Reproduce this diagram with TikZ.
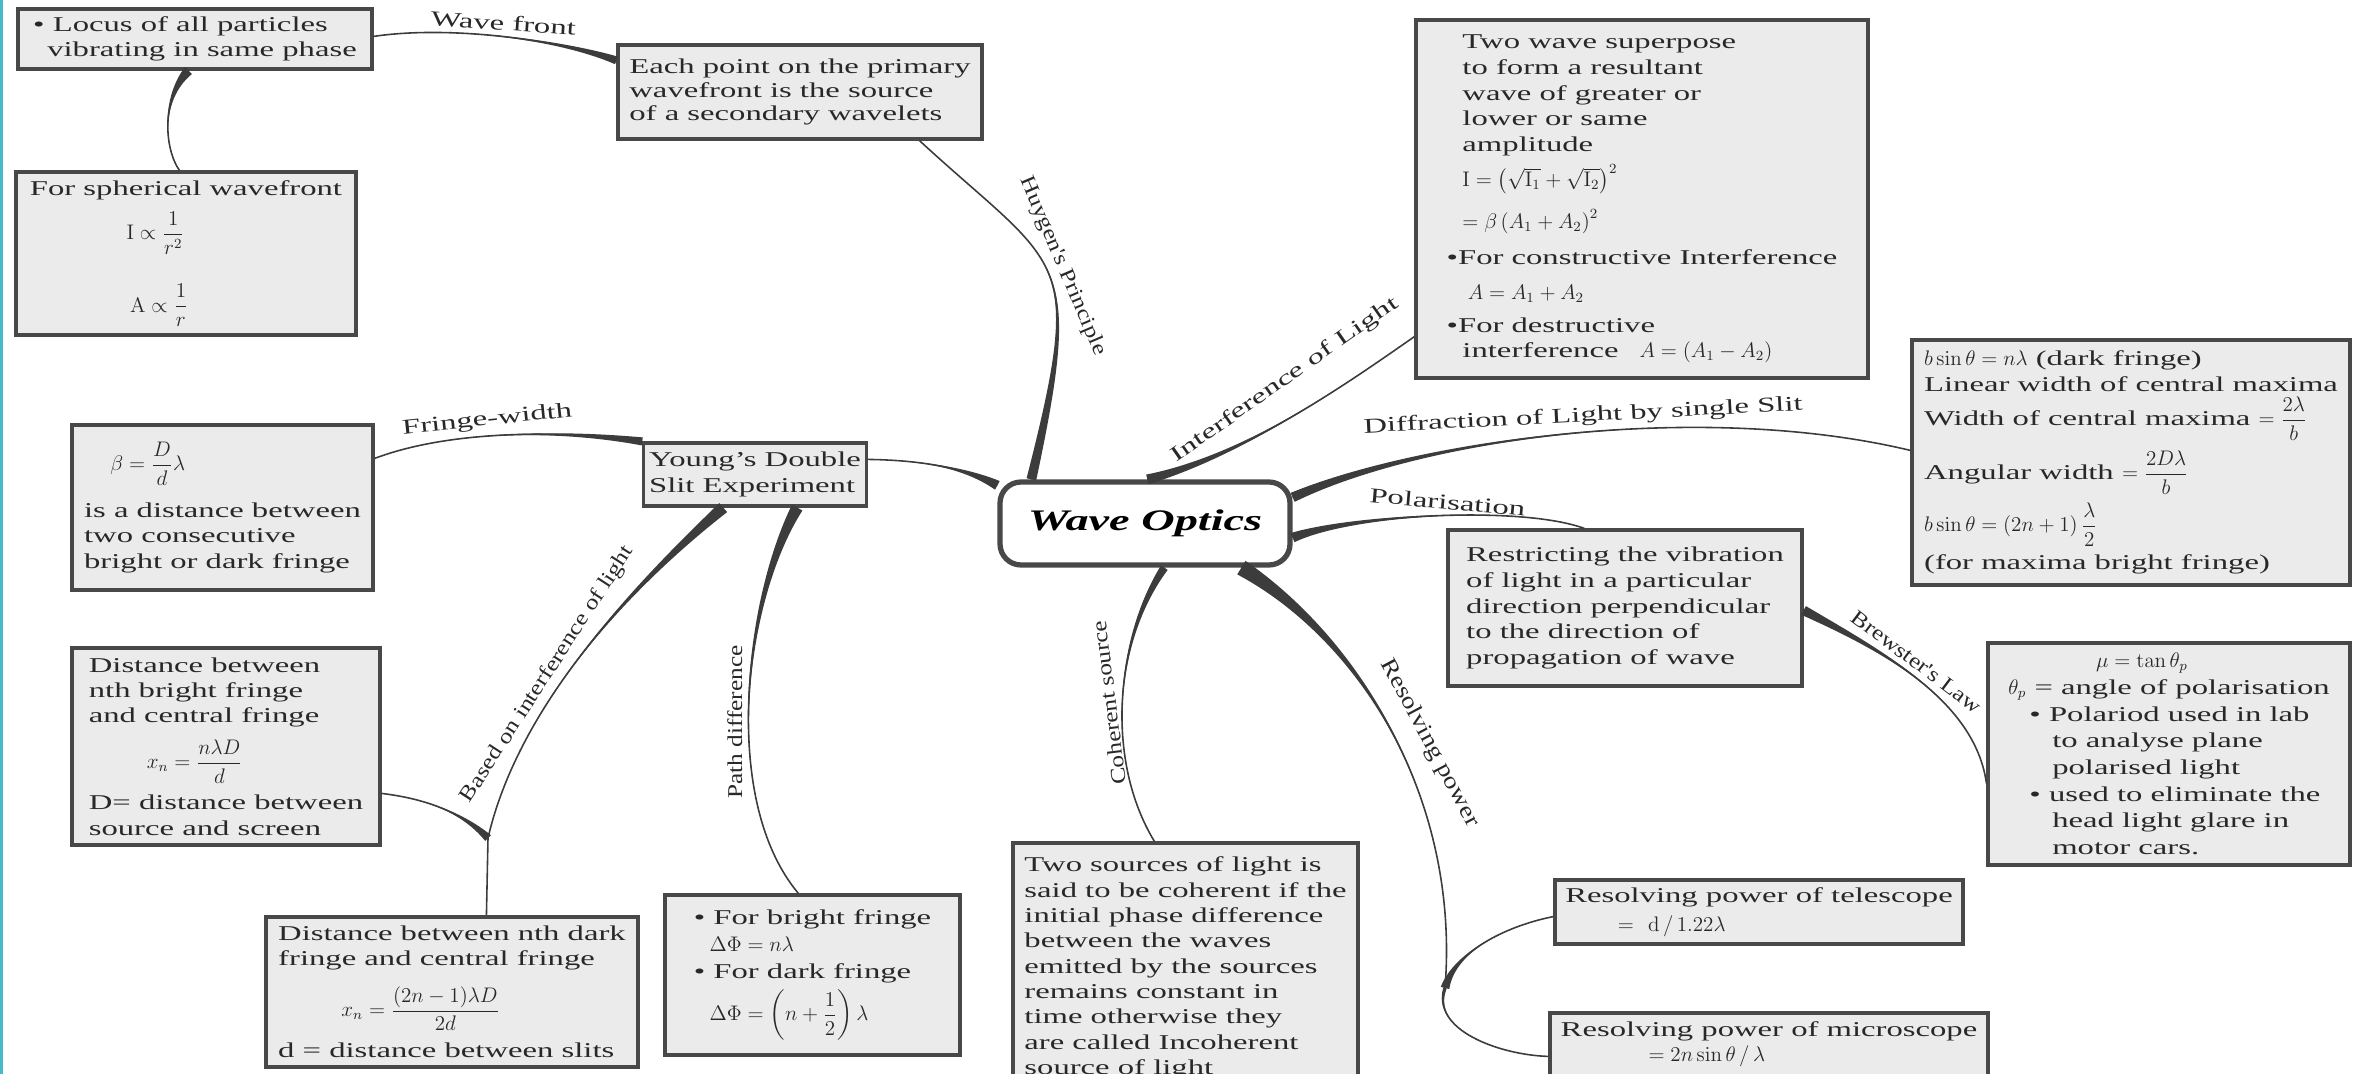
\documentclass[tikz,border=0pt]{standalone}
\usepackage{amsmath}
\usepackage[no-math]{fontspec}
\setmainfont{Liberation Serif}[FakeStretch=1.55]
\newfontfamily\steepfont{Liberation Serif}[FakeStretch=1.2]
\usetikzlibrary{calc}

\definecolor{boxfill}{RGB}{235,235,235}
\definecolor{boxline}{RGB}{72,72,72}
\definecolor{limbcol}{RGB}{60,60,60}
\definecolor{inkcol}{RGB}{40,40,40}
\definecolor{rulecol}{RGB}{70,185,205}

\tikzset{
	leaf/.style={draw=boxline, fill=boxfill, line width=1.8pt, inner sep=3pt, align=left, text=inkcol, font=\fontsize{12}{14.4}\selectfont},
	boxsize/.style 2 args={minimum width=#1*0.02cm, minimum height=#2*0.02cm},
	hub/.style={draw=boxline, fill=white, line width=3pt, rounded corners=12pt, text=black, font=\fontsize{17}{20}\selectfont\bfseries\itshape},
	limbfill/.style={fill=limbcol},
	limbline/.style={draw=limbcol, line width=0.9pt},
	lbl/.style={text=inkcol, inner sep=3pt, font=\fontsize{12}{14}\selectfont},
	lblv/.style={lbl, font=\steepfont\fontsize{12}{14}\selectfont}
}

% tapered branch: thick at #1, thin at #4
\newcommand\branch[6]{%
	\fill[limbfill] ($(#1)!#5!90:(#2)$) .. controls (#2) and (#3) .. (#4)
		.. controls (#3) and (#2) .. ($(#1)!#5!-90:(#2)$) -- cycle;
	\draw[limbline] (#1) .. controls (#2) and (#3) .. (#4) #6;}

\begin{document}
\begin{tikzpicture}[x=0.02cm, y=-0.02cm]
	\useasboundingbox (0,0) rectangle (2368,1074);
	\fill[rulecol] (0,0) rectangle (3,1074);

	\node[hub, boxsize={290}{83}] (wo) at (1145,523.5) {Wave Optics};

	\node[leaf, boxsize={354}{60}] (locus) at (195,39) {\textbullet\ Locus of all particles\\\hspace*{8pt}vibrating in same phase};
	\node[leaf, boxsize={340}{163}] (sph) at (186,253.5) {For spherical wavefront\\[6pt]\hspace*{55pt}$\mathrm{I}\propto\dfrac{1}{r^2}$\\[16pt]\hspace*{57pt}$\mathrm{A}\propto\dfrac{1}{r}$};
	\node[leaf, boxsize={364}{94}, font=\fontsize{12}{13.6}\selectfont] (huy) at (800,92) {Each point on the primary\\wavefront is the source\\of a secondary wavelets};
	\node[leaf, boxsize={220}{63}] (yds) at (755,474.5) {Young's Double\\Slit Experiment};
	\node[leaf, boxsize={301}{165}] (fw) at (222.5,507.5) {\hspace*{15pt}$\beta=\dfrac{D}{d}\lambda$\\[9pt]is a distance between\\two consecutive\\bright or dark fringe};
	\node[leaf, boxsize={308}{197}] (bright) at (226,746.5) {Distance between\\nth bright fringe\\and central fringe\\[6pt]\hspace*{33pt}$x_n=\dfrac{n\lambda D}{d}$\\[6pt]D= distance between\\source and screen};
	\node[leaf, boxsize={372}{150}] (dark) at (452,992) {Distance between nth dark\\fringe and central fringe\\[8pt]\hspace*{36pt}$x_n=\dfrac{(2n-1)\lambda D}{2d}$\\[6pt]d = distance between slits};
	\node[leaf, boxsize={295}{160}, font=\fontsize{12}{15.5}\selectfont] (path) at (812.5,975) {\textbullet\ For bright fringe\\\hspace*{9pt}$\Delta\Phi=n\lambda$\\\textbullet\ For dark fringe\\[3pt]\hspace*{9pt}$\Delta\Phi=\left(n+\dfrac{1}{2}\right)\lambda$};
	\node[leaf, boxsize={345}{250}] (coh) at (1185.5,968) {Two sources of light is\\said to be coherent if the\\initial phase difference\\between the waves\\emitted by the sources\\remains constant in\\time otherwise they\\are called Incoherent\\source of light};
	\node[leaf, boxsize={452}{358}, font=\fontsize{12}{14.6}\selectfont] (intf) at (1642,199) {\hspace*{9pt}Two wave superpose\\\hspace*{9pt}to form a resultant\\\hspace*{9pt}wave of greater or\\\hspace*{9pt}lower or same\\\hspace*{9pt}amplitude\\[4pt]\hspace*{9pt}$\mathrm{I}=\left(\sqrt{\mathrm{I}_1}+\sqrt{\mathrm{I}_2}\right)^2$\\[8pt]\hspace*{9pt}$=\beta\left(A_1+A_2\right)^2$\\[6pt]\textbullet For constructive Interference\\[5pt]\hspace*{12pt}$A=A_1+A_2$\\[4pt]\textbullet For destructive\\\hspace*{9pt}interference\quad $A=\left(A_1-A_2\right)$};
	\node[leaf, boxsize={438}{245}, font=\fontsize{12}{14.7}\selectfont] (diff) at (2131,462.5) {$b\sin\theta=n\lambda$ (dark fringe)\\Linear width of central maxima\\[2pt]Width of central maxima $=\dfrac{2\lambda}{b}$\\[5pt]Angular width $=\dfrac{2D\lambda}{b}$\\[4pt]$b\sin\theta=(2n+1)\,\dfrac{\lambda}{2}$\\[4pt](for maxima bright fringe)};
	\node[leaf, boxsize={354}{156}, font=\fontsize{12}{14.6}\selectfont] (pol) at (1625,608) {Restricting the vibration\\of light in a particular\\direction perpendicular\\to the direction of\\propagation of wave};
	\node[leaf, boxsize={362}{222}, font=\fontsize{12}{15.2}\selectfont] (brew) at (2169,754) {\hspace*{50pt}$\mu=\tan\theta_p$\\$\theta_p$ = angle of polarisation\\\hspace*{12pt}\textbullet\ Polariod used in lab\\\hspace*{25pt}to analyse plane\\\hspace*{25pt}polarised light\\\hspace*{12pt}\textbullet\ used to eliminate the\\\hspace*{25pt}head light glare in\\\hspace*{25pt}motor cars.};
	\node[leaf, boxsize={408}{64}] (tel) at (1759,912) {Resolving power of telescope\\[2pt]\hspace*{30pt}$=\ \mathrm{d}\,/\,1.22\lambda$};
	\node[leaf, boxsize={438}{63}] (mic) at (1769,1044.5) {Resolving power of microscope\\\hspace*{50pt}$=2n\sin\theta\,/\,\lambda$};

	% branch ends
	\coordinate (h0) at ($(wo.north west)+(34,0)$);
	\coordinate (h1) at ($(huy.south west)+(303,0)$);
	\coordinate (i0) at ($(wo.north west)+(150,0)$);
	\coordinate (i1) at ($(intf.south west)+(0,-43)$);
	\coordinate (d0) at ($(wo.north east)+(0,18)$);
	\coordinate (d1) at ($(diff.north west)+(0,112)$);
	\coordinate (p0) at ($(wo.south east)+(0,-30)$);
	\coordinate (p1) at ($(pol.north west)+(138,0)$);
	\coordinate (b0) at ($(pol.north east)+(0,82)$);
	\coordinate (b1) at ($(brew.north west)+(0,142)$);
	\coordinate (r0) at ($(wo.south west)+(244,0)$);
	\coordinate (res) at (1445,988);
	\coordinate (t1) at ($(tel.south west)+(0,-29)$);
	\coordinate (m1) at ($(mic.north west)+(0,45)$);
	\coordinate (k0) at ($(wo.south west)+(167,0)$);
	\coordinate (k1) at ($(coh.north west)+(143,0)$);
	\coordinate (y0) at ($(wo.north west)+(0,6)$);
	\coordinate (y1) at ($(yds.north east)+(0,18)$);
	\coordinate (f0) at (yds.north west);
	\coordinate (f1) at ($(fw.north east)+(0,35)$);
	\coordinate (n0) at ($(yds.south west)+(81,0)$);
	\coordinate (jn) at (488,838);
	\coordinate (n1) at ($(dark.north west)+(222,0)$);
	\coordinate (n2) at ($(bright.north east)+(0,147)$);
	\coordinate (q0) at ($(yds.south west)+(155,0)$);
	\coordinate (q1) at ($(path.north west)+(135,0)$);
	\coordinate (w0) at ($(huy.north west)+(0,17)$);
	\coordinate (w1) at ($(locus.north east)+(0,29)$);
	\coordinate (s0) at ($(locus.south west)+(172,0)$);
	\coordinate (s1) at ($(sph.north west)+(165,0)$);

	\branch{h0}{1085,250}{1060,270}{h1}{2.8pt}{node[lblv, pos=.5, rotate=-67, anchor=south] {Huygen's Principle}}
	\branch{i0}{1245,455}{1345,385}{i1}{2.8pt}{node[lbl, pos=.55, rotate=35, yshift=11pt, anchor=south] {Interference of Light}}
	\branch{d0}{1420,440}{1700,400}{d1}{2.8pt}{node[lbl, pos=.52, rotate=3, anchor=south] {Diffraction of Light by single Slit}}
	\branch{p0}{1350,515}{1520,505}{p1}{2.8pt}{node[lbl, pos=.53, rotate=-5, anchor=south] {Polarisation}}
	\branch{b0}{1880,650}{1975,700}{b1}{2.8pt}{node[lblv, pos=.45, rotate=-37, anchor=south] {Brewster's Law}}
	\branch{r0}{1360,640}{1460,800}{res}{4.5pt}{node[lblv, font=\steepfont\fontsize{13}{15}\selectfont, pos=.55, rotate=-62, yshift=7pt, anchor=south] {Resolving power}}
	\branch{res}{1455,950}{1510,925}{t1}{2.5pt}{}
	\branch{res}{1430,1030}{1500,1055}{m1}{1pt}{}
	\branch{k0}{1115,640}{1105,760}{k1}{2.3pt}{node[lblv, pos=.5, rotate=97, anchor=south] {Coherent source}}
	\branch{y0}{960,465}{910,460}{y1}{2.8pt}{}
	\branch{f0}{560,430}{450,430}{f1}{2.3pt}{node[lbl, pos=.56, rotate=6, anchor=south] {Fringe-width}}
	\branch{n0}{640,580}{520,700}{jn}{3.4pt}{node[lblv, pos=.6, rotate=57, anchor=south] {Based on interference of light}}
	\draw[limbline] (jn) -- (n1);
	\branch{jn}{460,810}{420,798}{n2}{2.3pt}{}
	\branch{q0}{745,600}{720,800}{q1}{3.4pt}{node[lblv, pos=.55, rotate=90, anchor=south] {Path difference}}
	\branch{w0}{560,40}{450,25}{w1}{2.3pt}{node[lbl, pos=.5, rotate=-4, anchor=south] {Wave front}}
	\branch{s0}{160,100}{165,150}{s1}{2.8pt}{}
\end{tikzpicture}
\end{document}
